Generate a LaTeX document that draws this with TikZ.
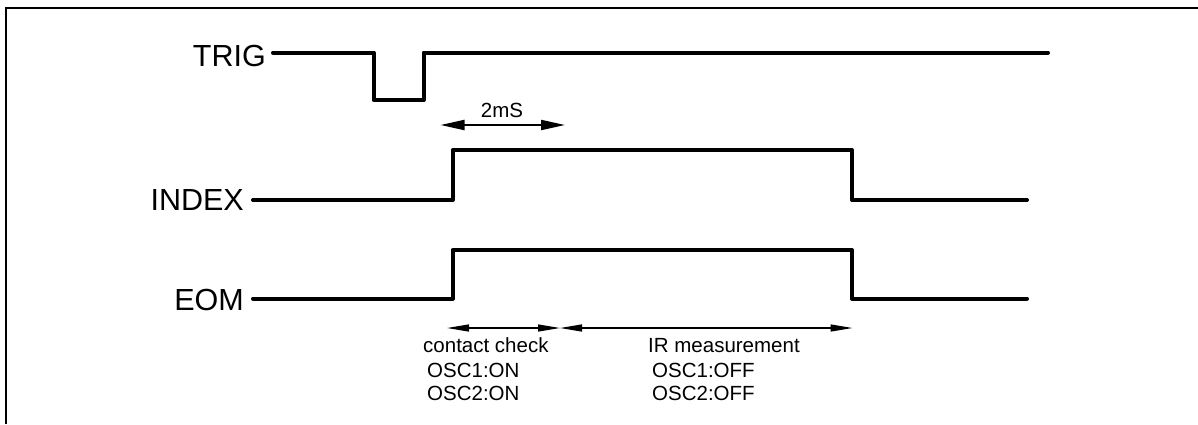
\documentclass[tikz,border=0pt]{standalone}
\usepackage{fontspec}
\setmainfont{Liberation Sans}
\usetikzlibrary{arrows.meta}
\begin{document}
\begin{tikzpicture}[x=1pt,y=-1pt,
  sig/.style={line width=4pt,line cap=round,line join=round},
  biglabel/.style={inner sep=0pt,font=\fontsize{30.5}{30.5}\selectfont},
  smalllabel/.style={inner sep=0pt,font=\fontsize{20.5}{20.5}\selectfont},
  dimbig/.style={line width=2pt,{Triangle[length=24pt,width=10pt]}-{Triangle[length=24pt,width=10pt]}},
  dimsmall/.style={line width=1.3pt,{Triangle[length=22pt,width=7pt]}-{Triangle[length=22pt,width=7pt]}},
  frameline/.style={line width=2.2pt}]
\useasboundingbox (0,0) rectangle (1198,424);
% frame
\coordinate (fbl) at (6,424);
\coordinate (ftl) at (6,7.8);
\coordinate (ftr) at (1198,7.8);
\draw[frameline] (fbl) -- (ftl) -- (ftr);
% labels
\node[biglabel,anchor=base east] (trig) at (266,66) {TRIG};
\node[biglabel,anchor=base east] (index) at (244,210) {INDEX};
\node[biglabel,anchor=base east] (eom) at (244,310) {EOM};
% TRIG waveform
\coordinate (t0) at (273,52.5);
\coordinate (t1) at (373.5,52.5);
\coordinate (t2) at (373.5,100);
\coordinate (t3) at (423.5,100);
\coordinate (t4) at (423.5,52.5);
\coordinate (t5) at (1048,52.5);
\draw[sig] (t0) -- (t1) -- (t2) -- (t3) -- (t4) -- (t5);
% INDEX waveform
\coordinate (i0) at (253,200);
\coordinate (i1) at (452.5,200);
\coordinate (i2) at (452.5,150);
\coordinate (i3) at (852,150);
\coordinate (i4) at (852,200);
\coordinate (i5) at (1027,200);
\draw[sig] (i0) -- (i1) -- (i2) -- (i3) -- (i4) -- (i5);
% EOM waveform
\coordinate (e0) at (253,298.5);
\coordinate (e1) at (452.5,298.5);
\coordinate (e2) at (452.5,250);
\coordinate (e3) at (852,250);
\coordinate (e4) at (852,298.5);
\coordinate (e5) at (1027,298.5);
\draw[sig] (e0) -- (e1) -- (e2) -- (e3) -- (e4) -- (e5);
% 2mS
\coordinate (m0) at (440.5,125);
\coordinate (m1) at (565,125);
\draw[dimbig] (m0) -- (m1);
\node[smalllabel,anchor=base] (ms) at (502,117) {2mS};
% phase arrows
\coordinate (c0) at (447,328);
\coordinate (c1) at (560,328);
\coordinate (c2) at (852.5,328);
\draw[dimsmall] (c0) -- (c1);
\draw[dimsmall] (c1) -- (c2);
% phase texts
\node[smalllabel,anchor=base west] (cc) at (423,352) {contact check};
\node[smalllabel,anchor=base west] (o1on) at (427,377) {OSC1:ON};
\node[smalllabel,anchor=base west] (o2on) at (427,400) {OSC2:ON};
\node[smalllabel,anchor=base west] (ir) at (648,352) {IR measurement};
\node[smalllabel,anchor=base west] (o1off) at (652,377) {OSC1:OFF};
\node[smalllabel,anchor=base west] (o2off) at (652,400) {OSC2:OFF};
\end{tikzpicture}
\end{document}
